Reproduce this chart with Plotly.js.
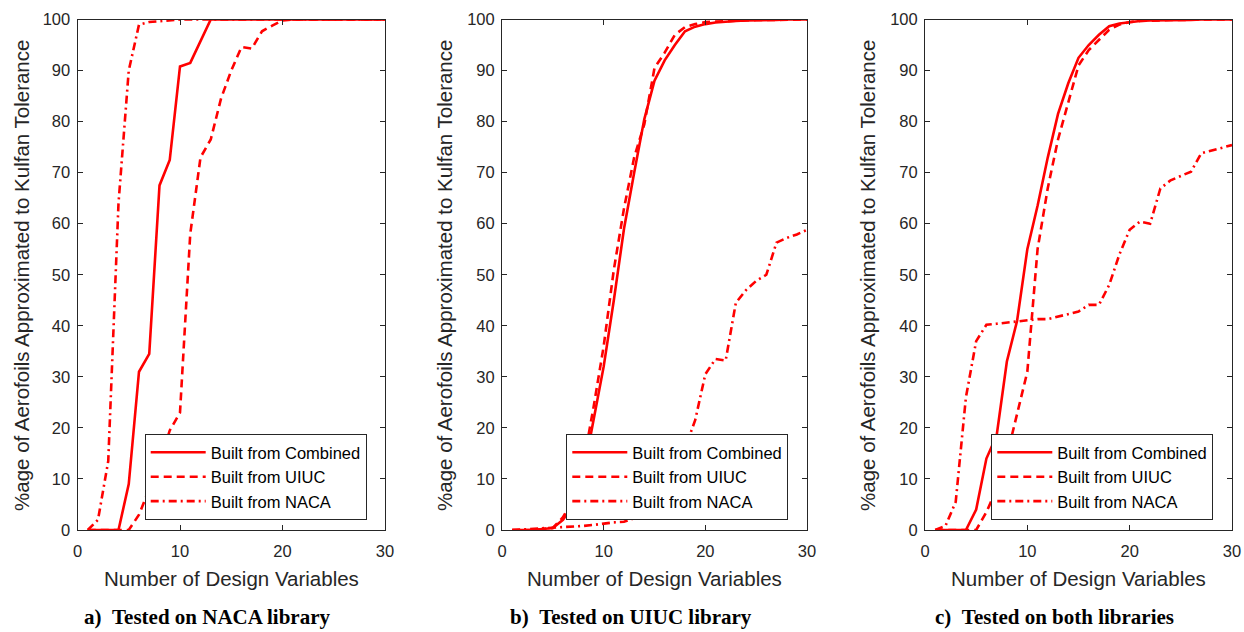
<!DOCTYPE html>
<html>
<head>
<meta charset="utf-8">
<script src="https://cdn.plot.ly/plotly-3.0.1.min.js"></script>
<style>html,body{margin:0;padding:0;background:#fff;}#chart{width:1244px;height:632px;}</style>
</head>
<body>
<div id="chart"></div>
<script>
// ---- Data ----
const designVars = [1,2,3,4,5,6,7,8,9,10,11,12,13,14,15,16,17,18,19,20,21,22,23,24,25,26,27,28,29,30];
const seriesNames = ["Built from Combined", "Built from UIUC", "Built from NACA"];

// a) Tested on NACA library
const combinedA = [0,0,0,0,9,31,34.5,67.5,72.5,90.8,91.5,95.8,100,100,100,100,100,100,100,100,100,100,100,100,100,100,100,100,100,100];
const uiucA     = [0,0,0,0,0,3,8,13,19.5,23,58,73,76.5,84.5,90,94.6,94.3,97.7,98.8,99.8,100,100,100,100,100,100,100,100,100,100];
const nacaA     = [0,2,13.5,64,90,99,99.5,99.7,99.8,100,100,100,100,100,100,100,100,100,100,100,100,100,100,100,100,100,100,100,100,100];

// b) Tested on UIUC library
const combinedB = [0,0,0,0.2,0.4,2,5,11,21.5,32,45,59,70,80.5,88,92,95,97.7,98.6,99.1,99.4,99.6,99.7,99.8,99.8,99.9,99.9,100,100,100];
const uiucB     = [0,0,0,0.2,0.4,2.5,6,13,24,36,51,63,73,79.5,90.5,93.5,97,98.5,99.1,99.5,99.6,99.7,99.8,99.8,99.9,99.9,99.9,100,100,100];
const nacaB     = [0,0.1,0.2,0.3,0.5,0.6,0.7,0.8,1.0,1.3,1.5,1.6,2.3,3.6,6,9,12.5,16,21.5,30.5,33.5,33.2,44.5,47,48.8,50,56.3,57.2,57.9,58.8];

// c) Tested on both libraries
const combinedC = [0,0,0,0,4,14,18.5,33,41,55,63.5,73,81.5,87.5,92.5,95,97,98.7,99.2,99.5,99.7,99.8,99.8,99.9,99.9,99.9,100,100,100,100];
const uiucC     = [0,0,0,0,0,3.5,8,14.5,23,31,55,67,76.5,83.5,91,94,96,98,99,99.5,99.7,99.8,99.9,99.9,99.9,100,100,100,100,100];
const nacaC     = [0,0.8,5.5,26,37,40.2,40.4,40.6,40.8,41,41.3,41.3,41.8,42.4,42.8,44.1,44.1,48,54,58.8,60.4,60,66.9,68.5,69.3,70.2,73.8,74.3,74.8,75.4];

const xTicks = [0,10,20,30];
const xTitle = "Number of Design Variables";
const yTitle = "%age of Aerofoils Approximated to Kulfan Tolerance";
const captions = ["a)\u00a0\u00a0Tested on NACA library", "b)\u00a0\u00a0Tested on UIUC library", "c)\u00a0\u00a0Tested on both libraries"];

// ---- Layout helpers ----
const W = 1244, H = 632;
const panels = [
  {x0: 77.5, x1: 385, data: [combinedA, uiucA, nacaA], legRight: 366.7, ytx: 21, cap: 207},
  {x0: 502, x1: 807, data: [combinedB, uiucB, nacaB], legRight: 788.3, ytx: 444, cap: 631},
  {x0: 925, x1: 1232, data: [combinedC, uiucC, nacaC], legRight: 1213.3, ytx: 867, cap: 1054}
];
const plotTop = 19.5, plotBottom = 530;
const dashes = ["solid", "8px,5px", "8px,4px,2px,4px"];
const red = "#ff0000";
const axisCol = "#262626";
const sans = "Liberation Sans, Arial, sans-serif";

const traces = [];
const layout = {
  width: W, height: H,
  margin: {l: 0, r: 0, t: 0, b: 0},
  paper_bgcolor: "#fff", plot_bgcolor: "#fff",
  font: {family: sans, color: axisCol, size: 16.5},
  annotations: []
};

panels.forEach((p, i) => {
  const sfx = i === 0 ? "" : String(i + 1);
  const legName = "legend" + sfx;
  p.data.forEach((vals, k) => {
    traces.push({
      type: "scatter", mode: "lines",
      x: designVars, y: vals,
      name: seriesNames[k],
      xaxis: "x" + sfx, yaxis: "y" + sfx,
      legend: legName,
      cliponaxis: false,
      line: {color: red, width: 2.6, dash: dashes[k]}
    });
  });
  layout["xaxis" + sfx] = {
    domain: [p.x0 / W, p.x1 / W], anchor: "y" + sfx,
    range: [0, 30], tickvals: xTicks, ticks: "inside", ticklen: 5, tickcolor: axisCol,
    showline: true, linecolor: axisCol, linewidth: 1, mirror: "ticks",
    showgrid: false, zeroline: false, ticklabelstandoff: 6,
    tickfont: {size: 16.5, color: axisCol, family: sans}
  };
  layout["yaxis" + sfx] = {
    domain: [1 - plotBottom / H, 1 - plotTop / H], anchor: "x" + sfx,
    range: [0, 100], dtick: 10, ticks: "inside", ticklen: 5, tickcolor: axisCol,
    showline: true, linecolor: axisCol, linewidth: 1, mirror: "ticks",
    showgrid: false, zeroline: false, ticklabelstandoff: 3,
    tickfont: {size: 16.5, color: axisCol, family: sans}
  };
  layout[legName] = {
    x: p.legRight / W, xanchor: "right", y: 1 - 434 / H, yanchor: "top",
    bgcolor: "#fff", bordercolor: axisCol, borderwidth: 1,
    font: {size: 16.5, color: "#000", family: sans},
    itemwidth: 55, tracegroupgap: 0
  };
  // axis titles
  layout.annotations.push({
    text: xTitle, xref: "paper", yref: "paper",
    x: (p.x0 + p.x1) / 2 / W, y: 1 - 578 / H, xanchor: "center", yanchor: "middle",
    showarrow: false, font: {size: 20.5, color: axisCol, family: sans}
  });
  layout.annotations.push({
    text: yTitle, xref: "paper", yref: "paper", textangle: -90,
    x: p.ytx / W, y: 1 - 276 / H, xanchor: "center", yanchor: "middle",
    showarrow: false, font: {size: 20.5, color: axisCol, family: sans}
  });
  layout.annotations.push({
    text: "<b>" + captions[i] + "</b>", xref: "paper", yref: "paper",
    x: p.cap / W, y: 1 - 631 / H, xanchor: "center", yanchor: "bottom",
    showarrow: false, font: {size: 21, color: "#000", family: "Liberation Serif, Times New Roman, serif"}
  });
});

Plotly.newPlot("chart", traces, layout, {displayModeBar: false, staticPlot: true});
</script>
</body>
</html>
